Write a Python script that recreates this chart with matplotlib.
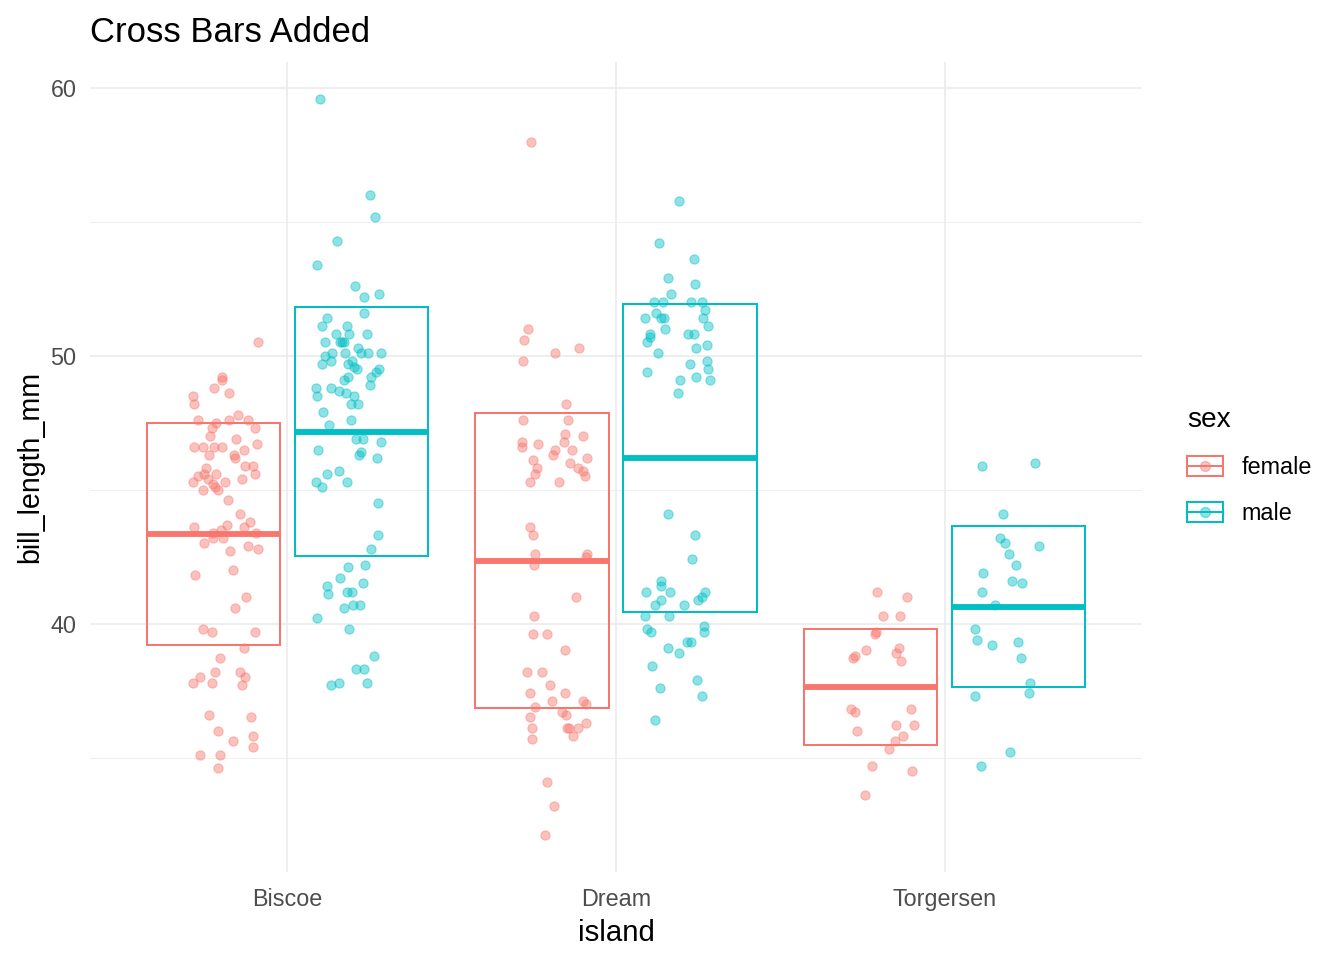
import matplotlib
matplotlib.use("Agg")
import matplotlib.pyplot as plt
from matplotlib.legend_handler import HandlerBase
from matplotlib.lines import Line2D
from matplotlib.patches import Rectangle

plt.rcParams["font.family"] = ["Liberation Sans", "DejaVu Sans"]

ISLANDS = ["Biscoe", "Dream", "Torgersen"]
SEXES = ["female", "male"]
SEX_COLORS = {"female": "#F8766D", "male": "#00BFC4"}

# crossbars: centre line and box edges
female_mean = [43.33, 42.34, 37.62]
female_lo = [39.21, 36.86, 35.45]
female_hi = [47.51, 47.88, 39.81]
male_mean = [47.14, 46.18, 40.62]
male_lo = [42.52, 40.42, 37.64]
male_hi = [51.84, 51.92, 43.64]

# points: (horizontal jitter, bill_length_mm)
biscoe_female = [
    (0.098, 50.5), (-0.011, 49.2), (-0.011, 49.1), (-0.036, 48.8), (0.010, 48.6), (-0.100, 48.5),
    (-0.096, 48.2), (0.037, 47.8), (-0.084, 47.6), (-0.029, 47.5), (0.010, 47.6), (0.068, 47.6),
    (-0.042, 47.3), (0.090, 47.3), (-0.048, 47.0), (0.031, 46.9), (0.095, 46.7), (-0.095, 46.6),
    (-0.068, 46.6), (-0.034, 46.6), (-0.010, 46.6), (-0.051, 46.3), (0.056, 46.5), (0.025, 46.3),
    (0.029, 46.2), (0.058, 45.9), (0.082, 45.9), (-0.059, 45.8), (0.090, 45.6), (-0.030, 45.6),
    (-0.084, 45.5), (-0.066, 45.6), (-0.100, 45.3), (0.050, 45.4), (-0.054, 45.4), (-0.001, 45.3),
    (-0.039, 45.2), (-0.032, 45.1), (-0.023, 45.0), (-0.069, 45.0), (0.007, 44.6), (0.044, 44.1),
    (0.074, 43.8), (0.004, 43.7), (-0.096, 43.6), (-0.013, 43.5), (0.056, 43.6), (-0.038, 43.4),
    (0.093, 43.4), (-0.008, 43.2), (-0.066, 43.0), (0.068, 42.9), (0.098, 42.8), (-0.039, 43.2),
    (0.013, 42.7), (0.023, 42.0), (-0.093, 41.8), (0.062, 41.0), (0.029, 40.6), (-0.069, 39.8),
    (-0.042, 39.7), (0.089, 39.7), (0.056, 39.1), (-0.017, 38.7), (-0.032, 38.2), (0.045, 38.2),
    (-0.078, 38.0), (0.060, 38.0), (-0.100, 37.8), (-0.042, 37.8), (0.050, 37.7), (-0.051, 36.6),
    (0.077, 36.5), (-0.023, 36.0), (0.083, 35.8), (0.022, 35.6), (0.083, 35.4), (-0.078, 35.1),
    (-0.017, 35.1), (-0.023, 34.6),
]
biscoe_male = [
    (-0.087, 59.6), (0.064, 56.0), (0.079, 55.2), (-0.035, 54.3), (-0.097, 53.4), (0.019, 52.6),
    (0.046, 52.2), (0.092, 52.3), (0.046, 51.6), (-0.066, 51.4), (-0.082, 51.1), (-0.006, 51.1),
    (-0.039, 50.8), (0.000, 50.8), (0.056, 50.8), (-0.073, 50.5), (-0.015, 50.5), (-0.027, 50.5),
    (-0.021, 50.5), (-0.051, 50.1), (-0.072, 50.0), (-0.012, 50.1), (0.028, 50.3), (0.036, 50.1),
    (0.058, 50.1), (0.098, 50.1), (-0.054, 49.8), (0.010, 49.8), (-0.082, 49.7), (-0.003, 49.7),
    (0.016, 49.6), (0.026, 49.5), (0.092, 49.5), (0.081, 49.4), (0.068, 49.2), (-0.003, 49.2),
    (-0.015, 49.1), (0.064, 48.9), (-0.100, 48.8), (-0.054, 48.8), (-0.030, 48.7), (-0.008, 48.6),
    (0.016, 48.5), (-0.097, 48.5), (0.005, 48.2), (0.029, 48.2), (-0.079, 47.9), (0.006, 47.6),
    (-0.061, 47.4), (0.022, 46.9), (0.043, 46.9), (0.098, 46.8), (-0.094, 46.5), (0.031, 46.3),
    (0.038, 46.4), (0.086, 46.2), (-0.030, 45.7), (-0.067, 45.6), (-0.100, 45.3), (-0.082, 45.1),
    (-0.005, 45.3), (0.089, 44.5), (0.089, 43.3), (0.067, 42.8), (0.050, 42.2), (-0.002, 42.1),
    (-0.027, 41.7), (0.043, 41.5), (-0.067, 41.4), (-0.063, 41.1), (-0.005, 41.2), (0.010, 41.2),
    (0.012, 40.7), (0.033, 40.7), (-0.015, 40.6), (-0.097, 40.2), (0.000, 39.8), (0.076, 38.8),
    (0.022, 38.3), (0.046, 38.3), (0.056, 37.8), (-0.030, 37.8), (-0.054, 37.7),
]
dream_female = [
    (-0.071, 58.0), (-0.079, 51.0), (-0.092, 50.6), (0.002, 50.1), (0.075, 50.3), (-0.095, 49.8),
    (0.034, 48.2), (-0.095, 47.6), (0.042, 47.6), (0.031, 47.1), (0.028, 46.8), (0.086, 47.0),
    (-0.098, 46.8), (-0.098, 46.6), (-0.049, 46.7), (0.001, 46.5), (-0.004, 46.3), (0.054, 46.5),
    (0.100, 46.2), (-0.065, 46.1), (0.048, 46.0), (-0.054, 45.8), (-0.058, 45.6), (0.072, 45.8),
    (0.086, 45.7), (0.092, 45.5), (-0.074, 45.3), (0.015, 45.3), (-0.074, 43.6), (-0.065, 43.3),
    (-0.058, 42.6), (-0.061, 42.2), (0.100, 42.6), (0.096, 42.5), (0.066, 41.0), (-0.061, 40.3),
    (-0.065, 39.6), (-0.022, 39.6), (0.033, 39.0), (-0.083, 38.2), (-0.038, 38.2), (-0.013, 37.7),
    (-0.074, 37.4), (0.033, 37.4), (-0.008, 37.1), (0.088, 37.1), (0.097, 37.0), (-0.058, 36.9),
    (0.022, 36.7), (0.034, 36.6), (-0.074, 36.5), (-0.068, 36.1), (0.037, 36.1), (0.045, 36.1),
    (0.072, 36.1), (0.097, 36.3), (0.058, 35.8), (-0.068, 35.7), (-0.022, 34.1), (-0.001, 33.2),
    (-0.028, 32.1),
]
dream_male = [
    (0.003, 55.8), (-0.056, 54.2), (0.051, 53.6), (-0.029, 52.9), (0.054, 52.7), (-0.019, 52.3),
    (-0.071, 52.0), (-0.044, 52.0), (0.041, 52.0), (0.075, 52.0), (0.084, 51.7), (-0.065, 51.6),
    (-0.050, 51.4), (-0.043, 51.4), (-0.099, 51.4), (0.078, 51.4), (0.093, 51.1), (-0.038, 51.0),
    (-0.083, 50.8), (0.032, 50.8), (0.051, 50.8), (-0.083, 50.7), (-0.093, 50.5), (0.090, 50.4),
    (0.057, 50.3), (-0.059, 50.1), (0.038, 49.7), (0.090, 49.8), (0.093, 49.5), (-0.093, 49.4),
    (0.057, 49.2), (0.008, 49.1), (0.099, 49.1), (0.002, 48.6), (-0.029, 44.1), (0.054, 43.3),
    (0.043, 42.4), (-0.050, 41.6), (-0.050, 41.4), (-0.096, 41.2), (-0.023, 41.2), (0.084, 41.2),
    (0.073, 41.0), (0.063, 40.9), (-0.050, 40.9), (-0.068, 40.7), (0.020, 40.7), (-0.099, 40.3),
    (-0.026, 40.3), (-0.093, 39.8), (-0.082, 39.7), (0.081, 39.9), (0.081, 39.7), (0.029, 39.3),
    (0.041, 39.3), (-0.029, 39.1), (0.005, 38.9), (-0.077, 38.4), (0.060, 37.9), (-0.053, 37.6),
    (0.075, 37.3), (-0.068, 36.4),
]
torgersen_female = [
    (-0.020, 41.2), (0.074, 41.0), (0.001, 40.3), (0.050, 40.3), (-0.023, 39.7), (-0.026, 39.6),
    (-0.051, 39.0), (0.047, 39.1), (0.038, 38.9), (-0.084, 38.8), (-0.093, 38.7), (0.053, 38.6),
    (-0.098, 36.8), (-0.087, 36.7), (0.086, 36.8), (0.038, 36.2), (0.095, 36.2), (-0.080, 36.0),
    (0.059, 35.8), (0.035, 35.6), (0.019, 35.3), (-0.033, 34.7), (0.089, 34.5), (-0.054, 33.6),
]
torgersen_male = [
    (-0.073, 45.9), (0.086, 46.0), (-0.009, 44.1), (-0.018, 43.2), (-0.003, 43.0), (0.100, 42.9),
    (0.007, 42.6), (0.028, 42.2), (-0.070, 41.9), (0.016, 41.6), (0.049, 41.5), (-0.073, 41.2),
    (-0.036, 40.7), (-0.097, 39.8), (-0.088, 39.4), (-0.045, 39.2), (0.034, 39.3), (0.043, 38.7),
    (0.073, 37.8), (0.070, 37.4), (-0.097, 37.3), (0.012, 35.2), (-0.078, 34.7),
]

POINTS = {
    "female": [biscoe_female, dream_female, torgersen_female],
    "male": [biscoe_male, dream_male, torgersen_male],
}
BARS = {
    "female": (female_mean, female_lo, female_hi),
    "male": (male_mean, male_lo, male_hi),
}

POINT_DODGE = 0.1875   # jitterdodge offset
BAR_DODGE = 0.225      # crossbar dodge offset
BAR_W = 0.405
GRID = "#EBEBEB"


class CrossbarKey(HandlerBase):
    def create_artists(self, legend, orig_handle, xdescent, ydescent, width, height, fontsize, trans):
        c = orig_handle.get_color()
        x0, y0 = -xdescent, -ydescent
        box = Rectangle((x0, y0), width, height, fill=False, ec=c, lw=1.5, transform=trans)
        mid = Line2D([x0, x0 + width], [y0 + height / 2] * 2, color=c, lw=1.5, transform=trans)
        dot = Line2D([x0 + width / 2], [y0 + height / 2], marker="o", ms=7.5, ls="",
                     mfc=c, mec=c, alpha=0.45, transform=trans)
        return [box, mid, dot]


fig = plt.figure(figsize=(14, 10), dpi=96)
ax = fig.add_axes([90 / 1344, 1 - 872 / 960, (1142 - 90) / 1344, (872 - 62) / 960])

all_y = []
for sex in SEXES:
    sign = -1 if sex == "female" else 1
    color = SEX_COLORS[sex]
    for i, pts in enumerate(POINTS[sex]):
        xs = [i + sign * POINT_DODGE + j for j, _ in pts]
        ys = [v for _, v in pts]
        all_y += ys
        ax.scatter(xs, ys, s=48, color=color, alpha=0.45, linewidths=0.8, zorder=2)

for sex in SEXES:
    sign = -1 if sex == "female" else 1
    color = SEX_COLORS[sex]
    mean, lo, hi = BARS[sex]
    for i in range(len(ISLANDS)):
        xc = i + sign * BAR_DODGE
        ax.add_patch(Rectangle((xc - BAR_W / 2, lo[i]), BAR_W, hi[i] - lo[i],
                               fill=False, ec=color, lw=1.5, zorder=3))
        ax.plot([xc - BAR_W / 2, xc + BAR_W / 2], [mean[i], mean[i]], color=color,
                lw=4.4, solid_capstyle="butt", zorder=3)

# ggplot-style 5% expansion
ymin, ymax = min(all_y), max(all_y)
pad = 0.05 * (ymax - ymin)
ax.set_ylim(ymin - pad, ymax + pad)
ax.set_xlim(-0.6, len(ISLANDS) - 0.4)

ax.set_xticks(range(len(ISLANDS)))
ax.set_xticklabels(ISLANDS)
ax.set_yticks([40, 50, 60])
ax.set_yticks([35, 45, 55], minor=True)
ax.grid(which="major", color=GRID, lw=1.2)
ax.grid(which="minor", axis="y", color=GRID, lw=0.6)
ax.set_axisbelow(True)
for s in ax.spines.values():
    s.set_visible(False)
ax.tick_params(which="both", length=0)
ax.tick_params(axis="x", labelsize=17.5, labelcolor="#4D4D4D", pad=12)
ax.tick_params(axis="y", labelsize=17.5, labelcolor="#4D4D4D", pad=10)

ax.set_xlabel("island", fontsize=22, labelpad=6)
ax.set_ylabel("bill_length_mm", fontsize=21.5, labelpad=5)
ax.set_title("Cross Bars Added", loc="left", fontsize=26, pad=15)

handles = [Line2D([], [], color=SEX_COLORS[s]) for s in SEXES]
leg = fig.legend(handles, SEXES, title="sex", loc="center left", bbox_to_anchor=(1187 / 1344, 1 - 466 / 960),
                 frameon=False, fontsize=17.5, title_fontsize=21, handler_map={Line2D: CrossbarKey()},
                 handlelength=1.55, handleheight=0.97, handletextpad=0.8, labelspacing=0.97,
                 borderpad=0, borderaxespad=0)
leg._legend_box.align = "left"

fig.savefig("out.png", dpi=96, facecolor="white")
